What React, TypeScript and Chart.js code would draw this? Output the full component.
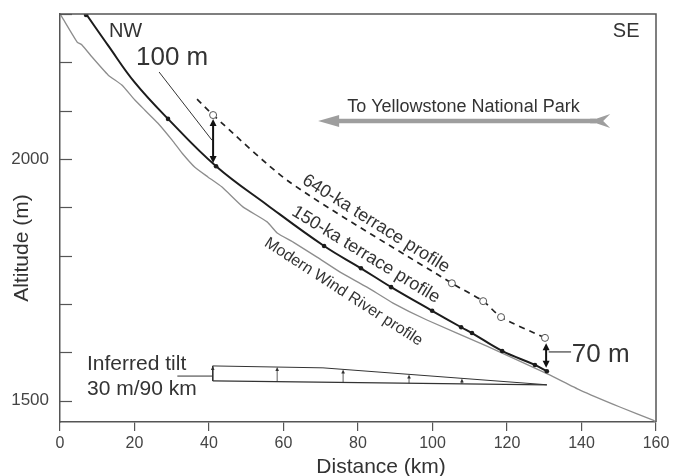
import { useEffect, useRef } from "react";
import { Chart, registerables } from "chart.js";
Chart.register(...registerables);

const FONT = '"Liberation Sans", Arial, sans-serif';

const xTicks = [0, 20, 40, 60, 80, 100, 120, 140, 160];
const yTicks = [1500, 1600, 1700, 1800, 1900, 2000, 2100, 2200, 2300];
const yLabeled = [1500, 2000];

// Modern Wind River profile
const modernKm = [0, 0.5, 4.6, 5.9, 8.6, 12.9, 16.6, 20.1, 22.8, 26.3, 30.1, 32.8, 36.2, 39.7, 43.5, 49.1, 55.6, 58.3, 62.6, 69.0, 75.2, 82.4, 89.4, 98.5, 114.6, 131, 139.6, 150.3, 159.2, 160];
const modernAlt = [2300, 2294, 2242, 2236, 2211, 2174, 2153, 2122, 2101, 2074, 2039, 2012, 1983, 1963, 1942, 1901, 1870, 1847, 1828, 1797, 1766, 1735, 1702, 1667, 1613, 1555, 1522, 1487, 1460, 1456];

// 150-ka terrace profile (line) and surveyed sites (dots)
const t150Km = [7, 13, 20, 29, 41.9, 55.6, 70.9, 80.8, 88.9, 99.9, 107.7, 110.6, 118.7, 127.5, 130.7];
const t150Alt = [2300, 2234, 2159, 2083, 1985, 1905, 1820, 1774, 1735, 1686, 1652, 1640, 1603, 1574, 1561];
const t150SiteKm = [7, 29, 41.9, 70.9, 80.8, 88.9, 99.9, 107.7, 110.6, 118.7, 127.5, 130.7];
const t150SiteAlt = [2298, 2083, 1985, 1820, 1774, 1735, 1686, 1652, 1640, 1603, 1574, 1561];

// 640-ka terrace profile (dashed) and sites (open circles)
const t640Km = [36.8, 41.1, 61.7, 105.2, 113.6, 118.4, 130.2];
const t640Alt = [2124, 2091, 1952, 1743, 1706, 1673, 1630];
const t640SiteKm = [41.1, 105.2, 113.6, 118.4, 130.2];
const t640SiteAlt = [2091, 1743, 1706, 1673, 1630];

// Inferred tilt wedge
const tiltTopKm = [41, 70.6, 130.7];
const tiltTopAlt = [1572, 1568, 1533];
const tiltBottomKm = [41, 130.7];
const tiltBottomAlt = [1541, 1533];
const tiltArrowKm = [41, 58.3, 76, 93.7, 107.9];
const tiltArrowFrom = [1541, 1539.5, 1538, 1536, 1534.6];
const tiltArrowTo = [1572, 1570, 1564.5, 1554.3, 1546];

// Offsets between terraces (double arrows)
const offsetKm = [41.1, 130.5];
const offsetTop = [2083, 1619];
const offsetBottom = [1992, 1568];

// Leader lines
const leader100Km = [26.6, 40.8];
const leader100Alt = [2180, 2039];
const leader70Km = [131.2, 137.2];
const leader70Alt = [1601, 1601];
const leaderTiltKm = [31.5, 41];
const leaderTiltAlt = [1551, 1551];

// Direction arrow
const dirArrowKm = [69.3, 147.7];
const dirArrowAlt = 2078.6;

const labels = [
  { text: "NW", km: 17.6, alt: 2252, size: 20, align: "center", baseline: "alphabetic", rot: 0 },
  { text: "SE", km: 152, alt: 2252, size: 20, align: "center", baseline: "alphabetic", rot: 0 },
  { text: "100 m", km: 30.1, alt: 2194.5, size: 26, align: "center", baseline: "alphabetic", rot: 0 },
  { text: "70 m", km: 137.4, alt: 1580, size: 26, align: "left", baseline: "alphabetic", rot: 0 },
  { text: "Inferred tilt", km: 7.25, alt: 1563.5, size: 21, align: "left", baseline: "alphabetic", rot: 0 },
  { text: "30 m/90 km", km: 7.25, alt: 1511.8, size: 21, align: "left", baseline: "alphabetic", rot: 0 },
  { text: "To Yellowstone National Park", km: 108.3, alt: 2097, size: 18, align: "center", baseline: "alphabetic", rot: 0 },
  { text: "640-ka terrace profile", km: 84.8, alt: 1866, size: 18, align: "center", baseline: "middle", rot: 32 },
  { text: "150-ka terrace profile", km: 82.1, alt: 1802, size: 18, align: "center", baseline: "middle", rot: 31.5 },
  { text: "Modern Wind River profile", km: 76.1, alt: 1725, size: 16, align: "center", baseline: "middle", rot: 33 },
  { text: "Distance (km)", km: 86.2, alt: 1350, size: 21, align: "center", baseline: "alphabetic", rot: 0 },
  { text: "Altitude (m)", km: -10.2, alt: 1816, size: 21, align: "center", baseline: "middle", rot: -90 },
];

const pts = (xs: number[], ys: number[]) => xs.map((x, i) => ({ x, y: ys[i] }));

const annotate = {
  id: "annotate",
  afterDatasetsDraw(chart: any) {
    const ctx = chart.ctx as CanvasRenderingContext2D;
    const sx = chart.scales.x;
    const sy = chart.scales.y;
    const px = (v: number) => sx.getPixelForValue(v);
    const py = (v: number) => sy.getPixelForValue(v);
    const area = chart.chartArea;
    ctx.save();
    // frame top & right
    ctx.strokeStyle = "#555";
    ctx.lineWidth = 1.5;
    ctx.beginPath();
    ctx.moveTo(area.left, area.top);
    ctx.lineTo(area.right, area.top);
    ctx.lineTo(area.right, area.bottom);
    ctx.stroke();
    // inward y ticks
    ctx.lineWidth = 1.2;
    for (const v of yTicks) {
      const y = Math.round(py(v)) + 0.5;
      ctx.beginPath();
      ctx.moveTo(area.left, y);
      ctx.lineTo(area.left + 12, y);
      ctx.stroke();
    }
    const head = (x: number, y: number, dir: number, len: number, hw: number) => {
      ctx.beginPath();
      ctx.moveTo(x, y);
      ctx.lineTo(x - hw, y + dir * len);
      ctx.lineTo(x + hw, y + dir * len);
      ctx.closePath();
      ctx.fill();
    };
    // offset double arrows
    ctx.strokeStyle = "#111";
    ctx.fillStyle = "#111";
    ctx.lineWidth = 2;
    offsetKm.forEach((k, i) => {
      const x = px(k);
      const y1 = py(offsetTop[i]);
      const y2 = py(offsetBottom[i]);
      ctx.beginPath();
      ctx.moveTo(x, y1 + 5);
      ctx.lineTo(x, y2 - 5);
      ctx.stroke();
      head(x, y1, 1, 7, 3.5);
      head(x, y2, -1, 7, 3.5);
    });
    // tilt arrows
    ctx.strokeStyle = "#333";
    ctx.fillStyle = "#333";
    ctx.lineWidth = 0.8;
    tiltArrowKm.forEach((k, i) => {
      const x = px(k);
      const y1 = py(tiltArrowFrom[i]);
      const y2 = py(tiltArrowTo[i]);
      ctx.beginPath();
      ctx.moveTo(x, y1);
      ctx.lineTo(x, y2 + 3);
      ctx.stroke();
      head(x, y2, 1, 4, 1.8);
    });
    // direction arrow
    const ay = py(dirArrowAlt);
    const tip = px(dirArrowKm[0]);
    const tail = px(dirArrowKm[1]);
    ctx.fillStyle = "#9e9e9e";
    ctx.strokeStyle = "#9e9e9e";
    ctx.lineWidth = 4.5;
    ctx.beginPath();
    ctx.moveTo(tip + 15, ay);
    ctx.lineTo(tail - 14, ay);
    ctx.stroke();
    ctx.beginPath();
    ctx.moveTo(tip, ay);
    ctx.lineTo(tip + 21, ay - 6);
    ctx.lineTo(tip + 21, ay + 6);
    ctx.closePath();
    ctx.fill();
    ctx.beginPath();
    ctx.moveTo(tail - 20, ay - 2.3);
    ctx.lineTo(tail - 14, ay - 2.3);
    ctx.lineTo(tail, ay - 7);
    ctx.lineTo(tail - 7, ay);
    ctx.lineTo(tail, ay + 7);
    ctx.lineTo(tail - 14, ay + 2.3);
    ctx.lineTo(tail - 20, ay + 2.3);
    ctx.closePath();
    ctx.fill();
    // labels
    ctx.fillStyle = "#333";
    for (const l of labels) {
      ctx.save();
      ctx.translate(px(l.km), py(l.alt));
      ctx.rotate((l.rot * Math.PI) / 180);
      ctx.font = `${l.size}px ${FONT}`;
      ctx.textAlign = l.align as CanvasTextAlign;
      ctx.textBaseline = l.baseline as CanvasTextBaseline;
      ctx.fillText(l.text, 0, 0);
      ctx.restore();
    }
    ctx.restore();
  },
};

export default function App() {
  const ref = useRef<HTMLCanvasElement | null>(null);
  useEffect(() => {
    if (!ref.current) return;
    const thin = (data: any) => ({
      data,
      borderColor: "#333",
      borderWidth: 1,
      pointRadius: 0,
      tension: 0,
    });
    const chart = new Chart(ref.current, {
      type: "line",
      data: {
        datasets: [
          {
            data: pts(t640SiteKm, t640SiteAlt),
            showLine: false,
            pointRadius: 3.5,
            pointBackgroundColor: "#fff",
            pointBorderColor: "#555",
            pointBorderWidth: 1,
          },
          {
            data: pts(t150SiteKm, t150SiteAlt),
            showLine: false,
            pointRadius: 2.3,
            pointBackgroundColor: "#1c1c1c",
            pointBorderWidth: 0,
          },
          {
            data: pts(t640Km, t640Alt),
            borderColor: "#222",
            borderWidth: 1.7,
            borderDash: [6, 5],
            pointRadius: 0,
            tension: 0.25,
          },
          {
            data: pts(t150Km, t150Alt),
            borderColor: "#1c1c1c",
            borderWidth: 2,
            pointRadius: 0,
            tension: 0.4,
          },
          {
            data: pts(modernKm, modernAlt),
            borderColor: "#8d8d8d",
            borderWidth: 1.3,
            pointRadius: 0,
            tension: 0.15,
          },
          thin(pts(tiltTopKm, tiltTopAlt)),
          { ...thin(pts(tiltBottomKm, tiltBottomAlt)), borderWidth: 1.3 },
          thin(pts([tiltTopKm[0], tiltBottomKm[0]], [tiltTopAlt[0], tiltBottomAlt[0]])),
          thin(pts(leader100Km, leader100Alt)),
          { ...thin(pts(leader70Km, leader70Alt)), borderColor: "#666", borderWidth: 1.5 },
          thin(pts(leaderTiltKm, leaderTiltAlt)),
        ] as any,
      },
      options: {
        animation: false,
        responsive: false,
        layout: { padding: { left: 0, top: 6, right: 25, bottom: 0 } },
        plugins: { legend: { display: false }, tooltip: { enabled: false } },
        scales: {
          x: {
            type: "linear",
            min: 0,
            max: 160,
            afterBuildTicks: (s: any) => {
              s.ticks = xTicks.map((v) => ({ value: v }));
            },
            afterFit: (s: any) => {
              s.height = 54;
              s.paddingLeft = 0;
              s.paddingRight = 0;
            },
            ticks: {
              autoSkip: false,
              maxRotation: 0,
              padding: 3,
              color: "#444",
              font: { size: 16, family: FONT },
            },
            grid: { drawOnChartArea: false, drawTicks: true, tickLength: 9, color: "#555", lineWidth: 1.2 },
            border: { color: "#555", width: 1.5 },
          },
          y: {
            type: "linear",
            min: 1456,
            max: 2300,
            afterBuildTicks: (s: any) => {
              s.ticks = yTicks.map((v) => ({ value: v }));
            },
            afterFit: (s: any) => {
              s.width = 52;
              s.paddingTop = 0;
              s.paddingBottom = 0;
            },
            ticks: {
              autoSkip: false,
              padding: 11,
              color: "#444",
              font: { size: 17, family: FONT },
              callback: (v: any) => (yLabeled.includes(Number(v)) ? String(v) : ""),
            },
            grid: { drawOnChartArea: false, drawTicks: false },
            border: { color: "#555", width: 1.5 },
          },
        },
      } as any,
      plugins: [annotate],
    });
    return () => chart.destroy();
  }, []);
  return <canvas ref={ref} width={673} height={468} style={{ display: "block" }} />;
}
